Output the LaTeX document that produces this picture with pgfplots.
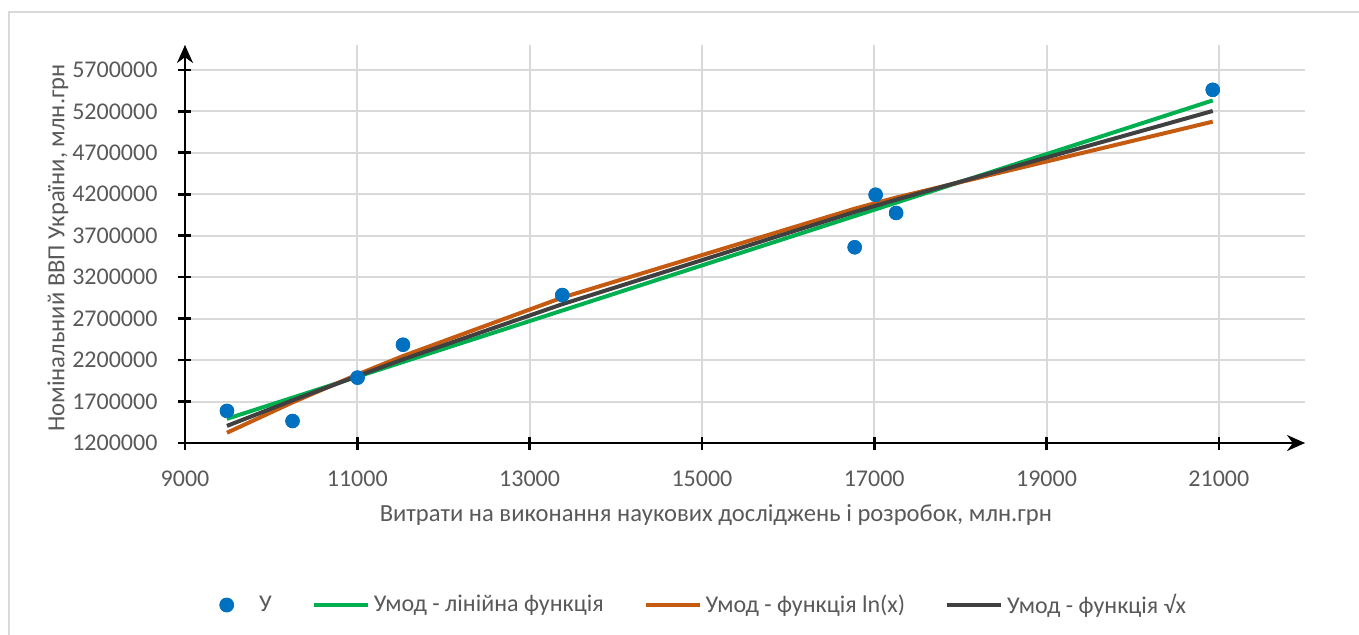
\documentclass[border=0pt]{standalone}
\usepackage{fontspec}
\setmainfont{Carlito}
\usepackage{pgfplots}
\pgfplotsset{compat=1.18}
\usetikzlibrary{arrows.meta}
\definecolor{txt}{HTML}{595959}
\definecolor{grd}{HTML}{D9D9D9}
\definecolor{cblue}{HTML}{0070C0}
\definecolor{cgreen}{HTML}{00B050}
\definecolor{corange}{HTML}{C55A11}
\definecolor{cdark}{HTML}{404040}
\pgfplotsset{
  linelegend/.style={legend image code/.code={\draw[##1] (0pt,0pt) -- (27pt,0pt);}},
  dotlegend/.style={legend image code/.code={\fill[cblue] (3.5pt,0pt) circle (3.5pt); \path (0pt,0pt) (17.5pt,0pt);}},
}
\begin{document}
\begin{tikzpicture}
\useasboundingbox (-92.5pt,-95.5pt) rectangle (587pt,221.5pt);
\draw[grd,line width=0.9pt] (-88pt,-100pt) -- (-88pt,215.5pt) -- (600pt,215.5pt);
\begin{axis}[
  scale only axis,
  width=560pt, height=199pt,
  xmin=9000, xmax=22000, ymin=1200000, ymax=6000000,
  axis lines=left,
  axis line style={line width=1.3pt, black, -{Stealth[length=9pt,width=8pt]}},
  xtick={9000,11000,...,21000},
  ytick={1200000,1700000,...,5700000},
  tick align=center,
  major tick length=6.5pt,
  every tick/.style={black, line width=1.3pt},
  grid=major,
  major grid style={grd, line width=1pt},
  scaled x ticks=false, scaled y ticks=false,
  /pgf/number format/.cd, fixed, 1000 sep={}, assume math mode=true,
  /pgfplots/.cd,
  tick label style={font=\fontsize{12}{14}\selectfont, text=txt},
  xticklabel style={yshift=-7pt},
  yticklabel style={xshift=-7pt},
  xlabel={Витрати на виконання наукових досліджень і розробок, млн.грн},
  ylabel={Номінальний ВВП України, млн.грн},
  every axis x label/.style={at={(axis description cs:0.474,0)}, yshift=-36pt, anchor=center, font=\fontsize{12.3}{15}\selectfont, text=txt},
  every axis y label/.style={at={(axis description cs:0,0.49)}, xshift=-63.5pt, rotate=90, anchor=center, font=\fontsize{12.3}{15}\selectfont, text=txt},
  legend style={at={(axis description cs:0.464,0)}, yshift=-81pt, anchor=center, draw=none, fill=none,
    font=\fontsize{12}{14}\selectfont, text=txt, legend columns=4,
    /tikz/every even column/.append style={column sep=18pt},
    nodes={inner xsep=2pt, inner ysep=1pt}},
  legend cell align=left,
]
\addplot[only marks, mark=*, mark size=3.4pt, cblue, mark options={fill=cblue, draw=cblue}, forget plot] coordinates {
(9487,1586915) (10248,1465198) (11003,1988544) (11530,2385367) (13379,2983882)
(16773,3560596) (17016,4194102) (17254,3974564) (20929,5459574)};
\addlegendimage{dotlegend}
\addlegendentry{У}
\addplot[cgreen, line width=2pt, linelegend] coordinates {
(9487,1491400) (10248,1746823) (11003,2000231) (11530,2177113) (13379,2797712)
(16773,3936874) (17016,4018434) (17254,4098317) (20929,5331796)};
\addlegendentry{Умод - лінійна функція}
\addplot[corange, line width=2pt, linelegend] coordinates {
(9487,1323849) (10248,1689720) (11003,2026798) (11530,2248645) (13379,2953913)
(16773,4025976) (17016,4094173) (17254,4160038) (20929,5075644)};
\addlegendentry{Умод - функція ln(x)}
\addplot[cdark, line width=2pt, linelegend] coordinates {
(9487,1406472) (10248,1714309) (11003,2008615) (11530,2208092) (13379,2874177)
(16773,3986462) (17016,4061573) (17254,4134620) (20929,5204407)};
\addlegendentry{Умод - функція √x}
\addplot[only marks, mark=*, mark size=3.4pt, cblue, mark options={fill=cblue, draw=cblue}, forget plot] coordinates {
(9487,1586915) (10248,1465198) (11003,1988544) (11530,2385367) (13379,2983882)
(16773,3560596) (17016,4194102) (17254,3974564) (20929,5459574)};
\end{axis}
\end{tikzpicture}
\end{document}
